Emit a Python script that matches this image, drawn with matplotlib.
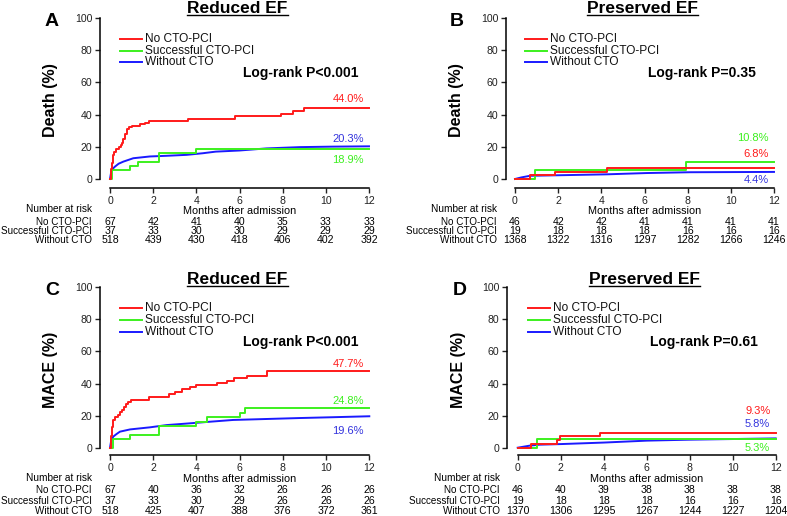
import matplotlib
matplotlib.use('Agg')
import matplotlib.pyplot as plt
import matplotlib.transforms as mtransforms
from matplotlib.lines import Line2D

plt.rcParams['font.family'] = ['Liberation Sans', 'DejaVu Sans']

W, H = 787, 516

months = [0, 2, 4, 6, 8, 10, 12]
groups = ['No CTO-PCI', 'Successful CTO-PCI', 'Without CTO']

# A: death, reduced EF
a_red_t = [0, 0.05, 0.1, 0.15, 0.2, 0.3, 0.4, 0.5, 0.55, 0.6, 0.7, 0.8, 0.9, 1.0, 1.4, 1.6, 1.8, 3.6, 5.8, 7.9, 8.5, 9.0, 12]
a_red_v = [0, 6, 10, 15, 17, 18.5, 20, 21, 22.5, 25, 28, 31, 32, 33, 34, 35, 36, 37.5, 39, 40.5, 42.5, 44.0, 44.0]
a_grn_t = [0, 0.1, 0.93, 1.31, 2.28, 4.0, 12]
a_grn_v = [0, 5.4, 8.1, 10.8, 16.2, 18.9, 18.9]
a_blu_t = [0, 0.05, 0.1, 0.23, 0.4, 0.62, 1.08, 1.85, 2.6, 3.55, 4.3, 4.9, 6.0, 7.25, 8.8, 10.3, 12]
a_blu_v = [0, 4, 6, 7.7, 9.5, 10.8, 12.9, 14, 14.4, 15, 16, 17, 17.7, 19, 19.8, 20.1, 20.3]

# B: death, preserved EF
b_red_t = [0, 0.68, 1.85, 4.25, 12]
b_red_v = [0, 2.3, 4.5, 6.8, 6.8]
b_grn_t = [0, 0.93, 7.9, 12]
b_grn_v = [0, 5.3, 10.8, 10.8]
b_blu_t = [0, 0.3, 0.7, 1.9, 4.25, 6.1, 8.1, 12]
b_blu_v = [0, 1.0, 2.0, 2.3, 2.9, 3.7, 4.2, 4.4]

# C: MACE, reduced EF
c_red_t = [0, 0.05, 0.1, 0.15, 0.25, 0.35, 0.45, 0.55, 0.65, 0.75, 0.85, 0.95, 1.8, 2.75, 3.0, 3.35, 3.7, 4.0, 4.95, 5.4, 5.75, 6.35, 7.25, 12]
c_red_v = [0, 7, 13, 17.5, 19, 20.5, 22, 23.5, 25.5, 27, 28.5, 30, 31.8, 33.3, 35, 36.5, 37.8, 38.8, 40.3, 41.8, 43.3, 44.8, 47.7, 47.7]
c_grn_t = [0, 0.12, 0.93, 2.28, 4.0, 4.47, 6.0, 6.25, 12]
c_grn_v = [0, 5.4, 8.1, 13.5, 16.2, 18.9, 21.6, 24.8, 24.8]
c_blu_t = [0, 0.05, 0.15, 0.3, 0.46, 0.93, 1.85, 2.62, 3.7, 4.63, 5.7, 7.25, 8.8, 10.3, 12]
c_blu_v = [0, 4, 6.9, 8.5, 10, 11.4, 12.7, 14.1, 15.2, 16.2, 17.3, 17.9, 18.5, 19.0, 19.6]

# D: MACE, preserved EF
d_red_t = [0, 0.6, 1.85, 1.97, 3.85, 12]
d_red_v = [0, 2.2, 4.5, 7.0, 9.3, 9.3]
d_grn_t = [0, 0.9, 12]
d_grn_v = [0, 5.3, 5.3]
d_blu_t = [0, 0.57, 1.04, 2.1, 4.0, 6.0, 8.0, 12]
d_blu_v = [0, 1.3, 1.9, 2.3, 3.2, 4.4, 5.0, 5.8]

# numbers at risk
a_risk = [[67, 42, 41, 40, 35, 33, 33], [37, 33, 30, 30, 29, 29, 29], [518, 439, 430, 418, 406, 402, 392]]
b_risk = [[46, 42, 42, 41, 41, 41, 41], [19, 18, 18, 18, 16, 16, 16], [1368, 1322, 1316, 1297, 1282, 1266, 1246]]
c_risk = [[67, 40, 36, 32, 26, 26, 26], [37, 33, 30, 29, 26, 26, 26], [518, 425, 407, 388, 376, 372, 361]]
d_risk = [[46, 40, 39, 38, 38, 38, 38], [19, 18, 18, 18, 16, 16, 16], [1370, 1306, 1295, 1267, 1244, 1227, 1204]]

# final percentages: red, green, blue
a_pct = [44.0, 18.9, 20.3]
b_pct = [6.8, 10.8, 4.4]
c_pct = [47.7, 24.8, 19.6]
d_pct = [9.3, 5.3, 5.8]

logrank = ['Log-rank P<0.001', 'Log-rank P=0.35', 'Log-rank P<0.001', 'Log-rank P=0.61']
titles = ['Reduced EF', 'Preserved EF', 'Reduced EF', 'Preserved EF']
letters = ['A', 'B', 'C', 'D']
ylabels = ['Death (%)', 'Death (%)', 'MACE (%)', 'MACE (%)']

RED, GRN, BLU = '#ff1a1a', '#3cf01e', '#1a1aff'
BLU_TXT = '#3333dd'


def fx(px):
    return px / W


def fy(py):
    return 1 - py / H


fig = plt.figure(figsize=(W / 100, H / 100), dpi=100)

# layout per panel in pixels: x0, x1, ytop, ybot, left offset, bottom offset, title baseline
layout = [
    (110, 369, 18, 179, 10, 9, 12.8),
    (515, 774, 18, 179, 9, 9, 12.8),
    (110, 369.3, 287.3, 447.7, 10, 7.5, 283.5),
    (517.7, 775.7, 287.3, 447.7, 10.4, 7.5, 283.5),
]
curves = [
    (a_red_t, a_red_v, a_grn_t, a_grn_v, a_blu_t, a_blu_v),
    (b_red_t, b_red_v, b_grn_t, b_grn_v, b_blu_t, b_blu_v),
    (c_red_t, c_red_v, c_grn_t, c_grn_v, c_blu_t, c_blu_v),
    (d_red_t, d_red_v, d_grn_t, d_grn_v, d_blu_t, d_blu_v),
]
risks = [a_risk, b_risk, c_risk, d_risk]
pcts = [a_pct, b_pct, c_pct, d_pct]
# label y (data) for red, green, blue percentages
pct_y = [(49.5, 11.8, 24.7), (15.5, 25.7, -0.6), (52, 29.3, 10.6), (22.9, 0, 14.6)]
risk_rows = [(209, 222, 231, 240.5), (209, 222, 231, 240.5),
             (477.7, 490, 500.7, 511.5), (477.7, 490, 500.7, 511.5)]

for i in range(4):
    x0, x1, yt, yb, offl, offb, tbase = layout[i]
    ax = fig.add_axes([fx(x0), fy(yb), (x1 - x0) / W, (yb - yt) / H])
    rt, rv, gt, gv, bt, bv = curves[i]
    ax.plot(bt, bv, color=BLU, lw=1.4, clip_on=False)
    ax.plot(gt, gv, color=GRN, lw=1.4, drawstyle='steps-post', clip_on=False)
    ax.plot(rt, rv, color=RED, lw=1.4, drawstyle='steps-post', clip_on=False)
    ax.set_xlim(0, 12)
    ax.set_ylim(0, 100)
    ax.set_xticks(months)
    ax.set_yticks([0, 20, 40, 60, 80, 100])
    for s in ['top', 'right']:
        ax.spines[s].set_visible(False)
    ax.spines['left'].set_position(('outward', offl * 0.72))
    ax.spines['bottom'].set_position(('outward', offb * 0.72))
    ax.spines['left'].set_bounds(0, 100)
    ax.spines['bottom'].set_bounds(0, 12)
    for s in ['left', 'bottom']:
        ax.spines[s].set_linewidth(1.1)
    ax.tick_params(direction='out', length=3.6, width=1.0, labelsize=7.6, pad=2, colors='#222222')
    ax.patch.set_visible(False)

    # legend drawn by hand
    for k, (name, col) in enumerate(zip(groups, [RED, GRN, BLU])):
        yy = [86.8, 79.5, 72.4][k]
        ax.plot([0.48, 1.5], [yy, yy], color=col, lw=1.4)
        ax.text(1.64, yy, name, fontsize=8.6, va='center', ha='left', color='#111111')

    ax.text(6.15, 66, logrank[i], fontsize=10, fontweight='bold', va='center', ha='left')

    for val, col, yy in zip(pcts[i], [RED, GRN, BLU_TXT], pct_y[i]):
        ax.text(11.75, yy, '%.1f%%' % val, color=col, fontsize=8, ha='right', va='center')

    # number at risk table
    trans = mtransforms.blended_transform_factory(ax.transData, fig.transFigure)
    lab_x = fx(x0 - 18)
    ry = risk_rows[i]
    fig.text(lab_x, fy(ry[0]), 'Number at risk', fontsize=7.3, ha='right', va='center')
    ax.text(6, fy(ry[0] + 1.5), 'Months after admission', transform=trans, fontsize=7.8,
            ha='center', va='center')
    for k in range(3):
        fig.text(lab_x, fy(ry[k + 1]), groups[k], fontsize=7.1, ha='right', va='center')
        for m, n in zip(months, risks[i][k]):
            ax.text(m, fy(ry[k + 1]), str(n), transform=trans, fontsize=7.6,
                    ha='center', va='center')

    # title, letter, y label
    tcx = (x0 + x1) / 2 - 2
    t = fig.text(fx(tcx), fy(tbase), titles[i], fontsize=12.5, fontweight='bold',
                 ha='center', va='baseline')
    fig.canvas.draw()
    bb = t.get_window_extent()
    fig.add_artist(Line2D([bb.x0 / W, bb.x1 / W], [fy(tbase + 2.3), fy(tbase + 2.3)],
                          color='black', lw=1.0))
    fig.text(fx(x0 - 58), fy(yt + 3), letters[i], fontsize=14, fontweight='bold',
             ha='center', va='center')
    fig.text(fx(x0 - 59), fy((yt + yb) / 2 + 2), ylabels[i], fontsize=11.5,
             fontweight='bold', rotation=90, ha='center', va='center')

fig.savefig('out.png', dpi=100)
